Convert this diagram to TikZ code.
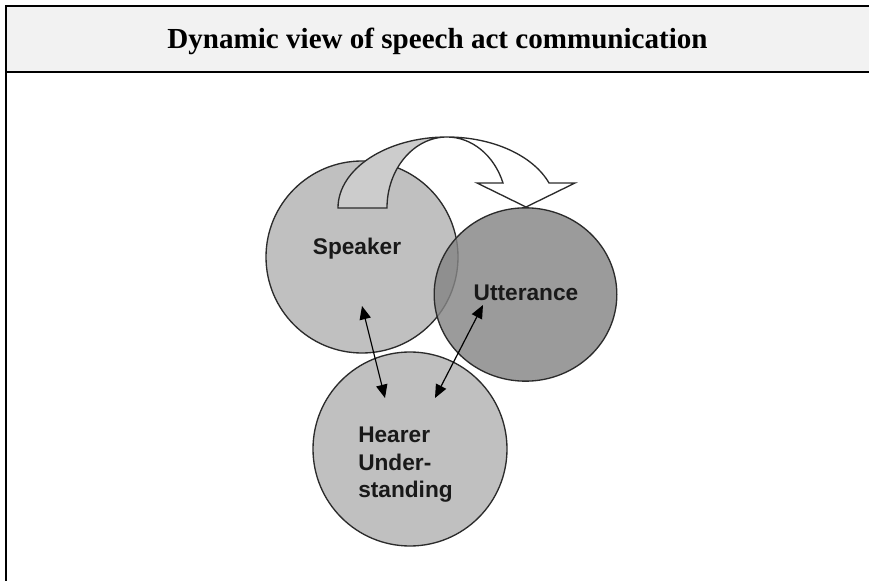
\documentclass[tikz,border=0pt]{standalone}
\usepackage{fontspec}
\setmainfont{Liberation Serif}
\setsansfont{Liberation Sans}
\usetikzlibrary{arrows.meta,shapes.geometric}
\definecolor{hdrgray}{HTML}{F2F2F2}
\definecolor{ballgray}{HTML}{C0C0C0}
\definecolor{bandgray}{HTML}{CCCCCC}
\definecolor{uttgray}{HTML}{858585}
\definecolor{edgegray}{HTML}{2B2B2B}
\tikzset{
  ball/.style={draw=edgegray, line width=1pt, circle, inner sep=0pt},
  lbl/.style={font=\sffamily\bfseries\fontsize{17}{20.6}\selectfont, text=black!90, inner sep=0pt},
  twohead/.style={{Triangle[length=10pt,width=8.5pt]}-{Triangle[length=10pt,width=8.5pt]}, line width=0.9pt},
}
\begin{document}
\begin{tikzpicture}[x=0.75pt,y=-0.75pt]
    \useasboundingbox (0,0) rectangle (869,581);
    % table frame
    \fill[hdrgray] (5.7,6) rectangle (869,72);
    \draw[line width=1.5pt] (869,6) -- (5.7,6) -- (5.7,581);
    \draw[line width=1.5pt] (5.7,72) -- (869,72);
    \node[font=\rmfamily\bfseries\fontsize{21.8}{26}\selectfont, anchor=base] (T) at (437.5,49) {Dynamic view of speech act communication};
    % speaker
    \node[ball, fill=ballgray, minimum size=144pt] (S) at (362,257) {};
    % curved arrow, back half
    \draw[draw=edgegray, fill=bandgray, line width=1pt] (338,208)
        arc[start angle=180, end angle=90, x radius=81.75pt, y radius=53.25pt]
        arc[start angle=90, end angle=180, x radius=45pt, y radius=53.25pt] -- cycle;
    % curved arrow, front half
    \draw[draw=edgegray, fill=white, line width=1pt] (447,137)
        arc[start angle=90, end angle=20.6, x radius=81.75pt, y radius=53.25pt]
        -- (575,183) -- (526,207) -- (477,183) -- (503,183)
        arc[start angle=20.6, end angle=90, x radius=45pt, y radius=53.25pt] -- cycle;
    % utterance, hearer
    \node[ball, ellipse, fill=uttgray, fill opacity=0.82, minimum width=137pt, minimum height=130pt] (U) at (525.5,294.5) {};
    \node[ball, fill=ballgray, minimum size=145.5pt] (H) at (410,449) {};
    % labels
    \node[lbl] (St) at (357,249) {Speaker};
    \node[lbl] (Ut) at (526,293) {Utterance};
    \node[lbl, anchor=west, align=left] (Ht) at (358,465) {Hearer\\Under-\\standing};
    % arrows
    \coordinate (s1) at (362,306);
    \coordinate (h1) at (385,398);
    \coordinate (u1) at (483,305);
    \coordinate (h2) at (435,398);
    \draw[twohead] (s1) -- (h1);
    \draw[twohead] (u1) -- (h2);
\end{tikzpicture}
\end{document}
